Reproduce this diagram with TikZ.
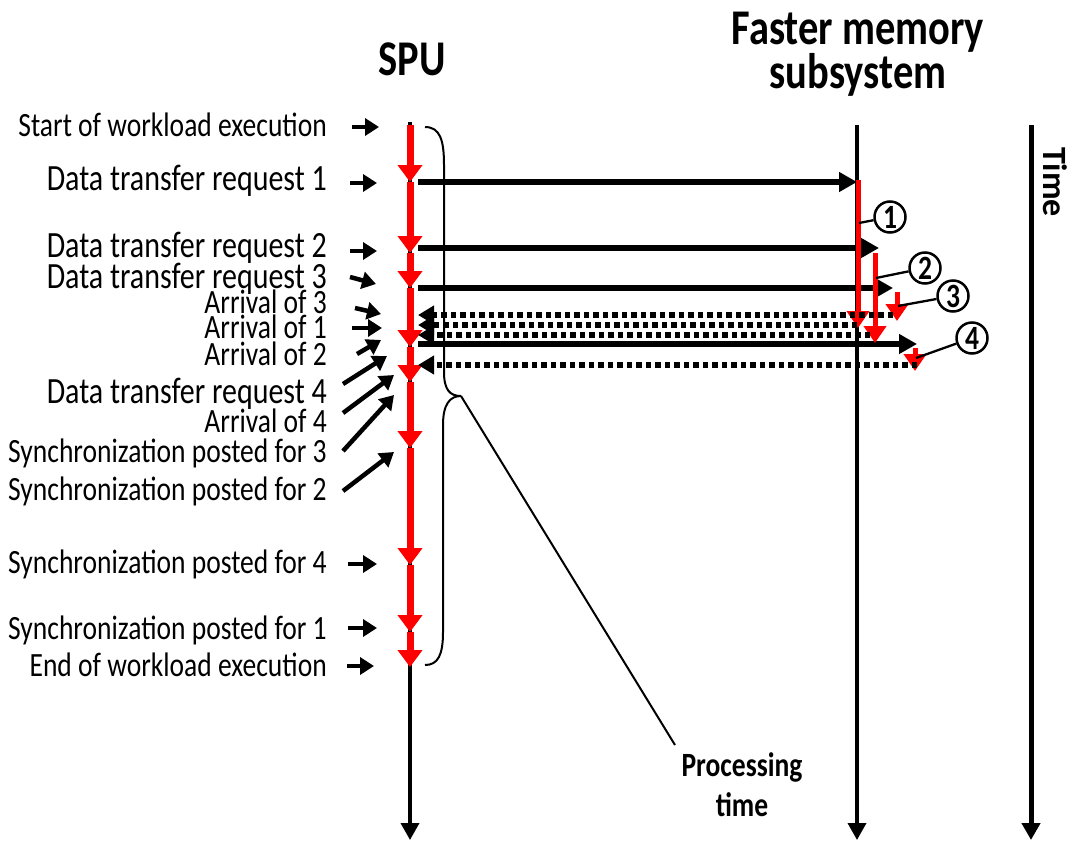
\documentclass[tikz,border=0pt]{standalone}
\usepackage{fontspec}
\setmainfont{Carlito}
\usetikzlibrary{arrows.meta}
\newcommand{\sq}[1]{\scalebox{0.81}[1]{#1}}
\newcommand{\sqb}[1]{\scalebox{0.81}[1]{#1}}
\begin{document}
\begin{tikzpicture}[x=1pt,y=-1pt,
  lbl/.style={anchor=base east,inner sep=0pt,font=\fontsize{34}{34}\selectfont},
  lblbig/.style={lbl,font=\fontsize{37}{37}\selectfont},
  hdr/.style={inner sep=0pt,anchor=base,font=\bfseries\fontsize{50}{50}\selectfont},
  axis/.style={line width=3.6pt,-{Triangle[length=17pt,width=18pt]}},
  redseg/.style={red,line width=7pt,-{Triangle[length=17pt,width=24pt]}},
  memred/.style={red,line width=5pt,-{Triangle[length=17pt,width=22pt]}},
  req/.style={line width=5.5pt,-{Triangle[length=18pt,width=19pt]}},
  arr/.style={line width=5.5pt,dash pattern=on 5.5pt off 4pt,-{Triangle[length=16pt,width=18pt]}},
  ptr/.style={line width=4.5pt,-{Triangle[length=14pt,width=17pt]}},
  circ/.style={circle,draw,line width=2.5pt,minimum size=31pt,inner sep=0pt,font=\bfseries\fontsize{34}{34}\selectfont},
  lead/.style={line width=2.3pt}
]
\useasboundingbox (0,0) rectangle (1075,843);

% headers
\node[hdr] (spu) at (412,75) {\sq{SPU}};
\node[hdr] (fm1) at (858,45) {\sq{Faster memory}};
\node[hdr] (fm2) at (858,88) {\sq{subsystem}};
\node[rotate=-90,inner sep=0pt,font=\bfseries\fontsize{34}{34}\selectfont] (time) at (1055,182) {Time};

% axes
\coordinate (spuTop) at (410,122);
\coordinate (spuBot) at (410,840);
\coordinate (memTop) at (857,125);
\coordinate (memBot) at (857,840);
\coordinate (timeTop) at (1031,125);
\coordinate (timeBot) at (1031,840);
\draw[axis] (spuTop) -- (spuBot);
\draw[axis] (memTop) -- (memBot);
\draw[axis,line width=5pt] (timeTop) -- (timeBot);

% SPU event points
\coordinate (e0) at (410,125);
\coordinate (e1) at (410,182);
\coordinate (e2) at (410,253);
\coordinate (e3) at (410,288);
\coordinate (e4) at (410,347);
\coordinate (e5) at (410,382);
\coordinate (e6) at (410,448);
\coordinate (e7) at (410,565);
\coordinate (e8) at (410,632);
\coordinate (e9) at (410,667);
\foreach \a/\b in {e0/e1,e1/e2,e2/e3,e3/e4,e4/e5,e5/e6,e6/e7,e7/e8,e8/e9}
  \draw[redseg] (\a) -- (\b);

% requests
\coordinate (r1s) at (418,182); \coordinate (r1e) at (857,182);
\coordinate (r2s) at (418,248); \coordinate (r2e) at (879,248);
\coordinate (r3s) at (418,288); \coordinate (r3e) at (893,288);
\coordinate (r4s) at (418,344); \coordinate (r4e) at (917,344);
\foreach \i in {1,2,3,4} \draw[req] (r\i s) -- (r\i e);

% memory processing (red)
\coordinate (m1s) at (858,180); \coordinate (m1e) at (858,328);
\coordinate (m2s) at (875,253); \coordinate (m2e) at (875,343);
\coordinate (m3s) at (897,292); \coordinate (m3e) at (897,321);
\coordinate (m4s) at (915,348); \coordinate (m4e) at (915,371);
\foreach \i in {1,2,3,4} \draw[memred] (m\i s) -- (m\i e);

% arrivals (dotted)
\coordinate (a3s) at (893,315); \coordinate (a3e) at (418,315);
\coordinate (a1s) at (857,325); \coordinate (a1e) at (418,325);
\coordinate (a2s) at (870,335); \coordinate (a2e) at (418,335);
\coordinate (a4s) at (917,365); \coordinate (a4e) at (418,365);
\foreach \i in {3,1,2,4} \draw[arr] (a\i s) -- (a\i e);

% circled numbers
\node[circ] (c1) at (890,217) {\sq{1}};
\node[circ] (c2) at (925,268) {\sq{2}};
\node[circ] (c3) at (953,296) {\sq{3}};
\node[circ] (c4) at (972,338) {\sq{4}};
\coordinate (l1) at (859,223);
\coordinate (l2) at (876,278);
\coordinate (l3) at (898,306);
\coordinate (l4) at (916,358);
\foreach \i in {1,2,3,4} \draw[lead] (c\i) -- (l\i);

% brace
\coordinate (btip) at (461,396);
\draw[line width=2pt] (425,127) .. controls (440,127) and (444,140) .. (444,165)
  -- (444,372) .. controls (444,390) and (450,396) .. (btip)
  .. controls (450,396) and (443,404) .. (443,425)
  -- (443,632) .. controls (443,655) and (438,665) .. (425,665);
\node[inner sep=0pt,align=center,font=\bfseries\fontsize{34}{40}\selectfont] (pt) at (742,785) {\sq{Processing}\\\sq{time}};
\coordinate (ptl) at (675,745);
\draw[line width=2pt] (btip) -- (ptl);

% left labels
\node[lbl] (t0) at (327,136) {\sq{Start of workload execution}};
\node[lblbig] (t1) at (327,190) {\sqb{Data transfer request 1}};
\node[lblbig] (t2) at (327,257) {\sqb{Data transfer request 2}};
\node[lblbig] (t3) at (327,288) {\sqb{Data transfer request 3}};
\node[lbl] (t4) at (327,313) {\sq{Arrival of 3}};
\node[lbl] (t5) at (327,338) {\sq{Arrival of 1}};
\node[lbl] (t6) at (327,365) {\sq{Arrival of 2}};
\node[lblbig] (t7) at (327,403) {\sqb{Data transfer request 4}};
\node[lbl] (t8) at (327,432) {\sq{Arrival of 4}};
\node[lbl] (t9) at (327,462) {\sq{Synchronization posted for 3}};
\node[lbl] (t10) at (327,500) {\sq{Synchronization posted for 2}};
\node[lbl] (t11) at (327,573) {\sq{Synchronization posted for 4}};
\node[lbl] (t12) at (327,639) {\sq{Synchronization posted for 1}};
\node[lbl] (t13) at (327,676) {\sq{End of workload execution}};

% pointer arrows
\foreach \i/\ax/\ay/\bx/\by in {
  0/352/127/379/127, 1/350/183/377/183, 2/350/251/377/251, 3/350/277/376/284,
  4/355/308/381/314, 5/352/328/382/328, 6/357/354/381/340, 7/343/384/387/356,
  8/343/413/394/375, 9/343/451/394/395, 10/343/491/394/452,
  11/348/564/377/564, 12/348/628/377/628, 13/347/666/374/666}
{
  \coordinate (pa\i) at (\ax,\ay);
  \coordinate (pb\i) at (\bx,\by);
  \draw[ptr] (pa\i) -- (pb\i);
}
\end{tikzpicture}
\end{document}
